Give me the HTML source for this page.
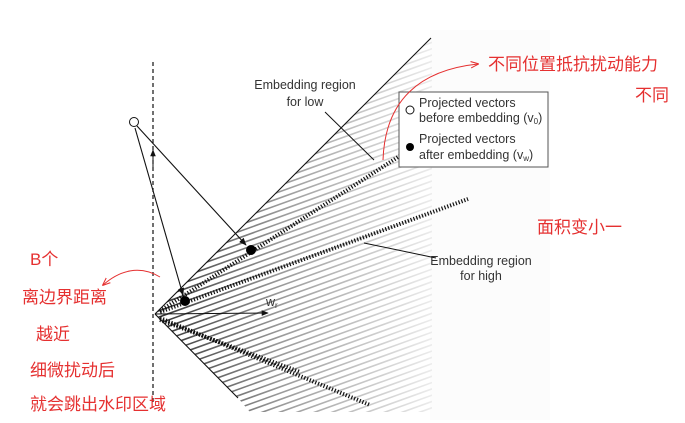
<!DOCTYPE html>
<html><head><meta charset="utf-8"><style>
html,body{margin:0;padding:0;background:#fff;width:685px;height:423px;overflow:hidden}
svg{display:block}
.t{font-family:"Liberation Sans",sans-serif;font-size:12.5px;fill:#333}
.r{font-family:"Liberation Sans","Noto Sans CJK SC",sans-serif;fill:#e53030;font-size:17px}
</style></head><body>
<svg width="685" height="423" viewBox="0 0 685 423">
<defs>
<linearGradient id="fade" x1="155" y1="0" x2="432" y2="0" gradientUnits="userSpaceOnUse">
<stop offset="0" stop-color="#333"/><stop offset="0.45" stop-color="#999"/><stop offset="1" stop-color="#ececec"/></linearGradient>
<clipPath id="wedge"><polygon points="155,314 432,38 432,412 250,412 238,398"/></clipPath>
<marker id="ah" viewBox="0 0 10 10" refX="9" refY="5" markerWidth="7" markerHeight="7" orient="auto"><path d="M0,1 L10,5 L0,9z" fill="#111"/></marker>
<marker id="ahr" viewBox="0 0 10 10" refX="9" refY="5" markerWidth="8" markerHeight="8" orient="auto"><path d="M0,1 L10,5 L0,9" fill="none" stroke="#e53030" stroke-width="1.3"/></marker>
</defs>
<rect x="430" y="30" width="120" height="390" fill="#fcfcfc"/>
<g id="stripes" clip-path="url(#wedge)"></g>
<line x1="153" y1="62" x2="153" y2="402" stroke="#111" stroke-width="1.2" stroke-dasharray="4 3"/>
<line x1="153" y1="170" x2="153" y2="150" stroke="#111" stroke-width="1" marker-end="url(#ah)"/>
<line x1="155" y1="314" x2="431" y2="38" stroke="#111" stroke-width="1.1"/>
<line x1="155" y1="314" x2="238" y2="398" stroke="#111" stroke-width="1.1"/>
<g stroke="#111" stroke-width="4" stroke-dasharray="1.2 1.8" fill="none">
<line x1="160" y1="311" x2="412" y2="148"/>
<line x1="160" y1="312" x2="468" y2="199"/>
<line x1="160" y1="318" x2="370" y2="405"/>
<line x1="160" y1="320" x2="300" y2="372"/>
</g>
<line x1="155" y1="314" x2="268" y2="313" stroke="#111" stroke-width="1" marker-end="url(#ah)"/>
<text x="266" y="306" class="t">w<tspan font-size="8" dy="2">r</tspan></text>
<line x1="137" y1="126" x2="246" y2="245" stroke="#111" stroke-width="1.1" marker-end="url(#ah)"/>
<line x1="135" y1="128" x2="183" y2="295" stroke="#111" stroke-width="1.1" marker-end="url(#ah)"/>
<circle cx="134" cy="122" r="4.5" fill="#fff" stroke="#111" stroke-width="1"/>
<circle cx="251" cy="250" r="5" fill="#000"/>
<circle cx="185" cy="301" r="5" fill="#000"/>
<text x="305" y="89" class="t" text-anchor="middle">Embedding region</text>
<text x="305" y="106" class="t" text-anchor="middle">for low</text>
<line x1="325" y1="112" x2="374" y2="160" stroke="#111" stroke-width="1"/>
<text x="481" y="265" class="t" text-anchor="middle">Embedding region</text>
<text x="481" y="280" class="t" text-anchor="middle">for high</text>
<line x1="364" y1="243" x2="436" y2="258" stroke="#111" stroke-width="1"/>
<g>
<rect x="399" y="92" width="149" height="75" fill="#fff" stroke="#555" stroke-width="1"/>
<circle cx="410" cy="110" r="4" fill="#fff" stroke="#111"/>
<text x="419" y="107" class="t">Projected vectors</text>
<text x="419" y="122" class="t">before embedding (v<tspan font-size="8" dy="2">0</tspan><tspan dy="-2">)</tspan></text>
<circle cx="410" cy="147" r="4" fill="#000"/>
<text x="419" y="143" class="t">Projected vectors</text>
<text x="419" y="159" class="t">after embedding (v<tspan font-size="8" dy="2">w</tspan><tspan dy="-2">)</tspan></text>
</g>
<path d="M383,160 C385,100 420,70 478,64" fill="none" stroke="#e53030" stroke-width="1" marker-end="url(#ahr)"/>
<path d="M160,277 C140,265 120,270 103,285" fill="none" stroke="#e53030" stroke-width="1" marker-end="url(#ahr)"/>
<text x="488" y="70" class="r">不同位置抵抗扰动能力</text>
<text x="635" y="101" class="r">不同</text>
<text x="537" y="233" class="r">面积变小一</text>
<g>
<text x="30" y="265" class="r">B个</text>
<text x="22" y="303" class="r">离边界距离</text>
<text x="36" y="340" class="r">越近</text>
<text x="30" y="376" class="r">细微扰动后</text>
<text x="30" y="410" class="r">就会跳出水印区域</text>
</g>
</svg>
<script>
var g=document.getElementById('stripes');
for(var i=-60;i<90;i++){
  var y0=314+i*6.3;
  var l=document.createElementNS('http://www.w3.org/2000/svg','line');
  l.setAttribute('x1',150);l.setAttribute('y1',y0);
  l.setAttribute('x2',440);l.setAttribute('y2',y0-290*0.36);
  l.setAttribute('stroke','url(#fade)');l.setAttribute('stroke-width','1.6');
  
  
  g.appendChild(l);
}
</script>
</body></html>
